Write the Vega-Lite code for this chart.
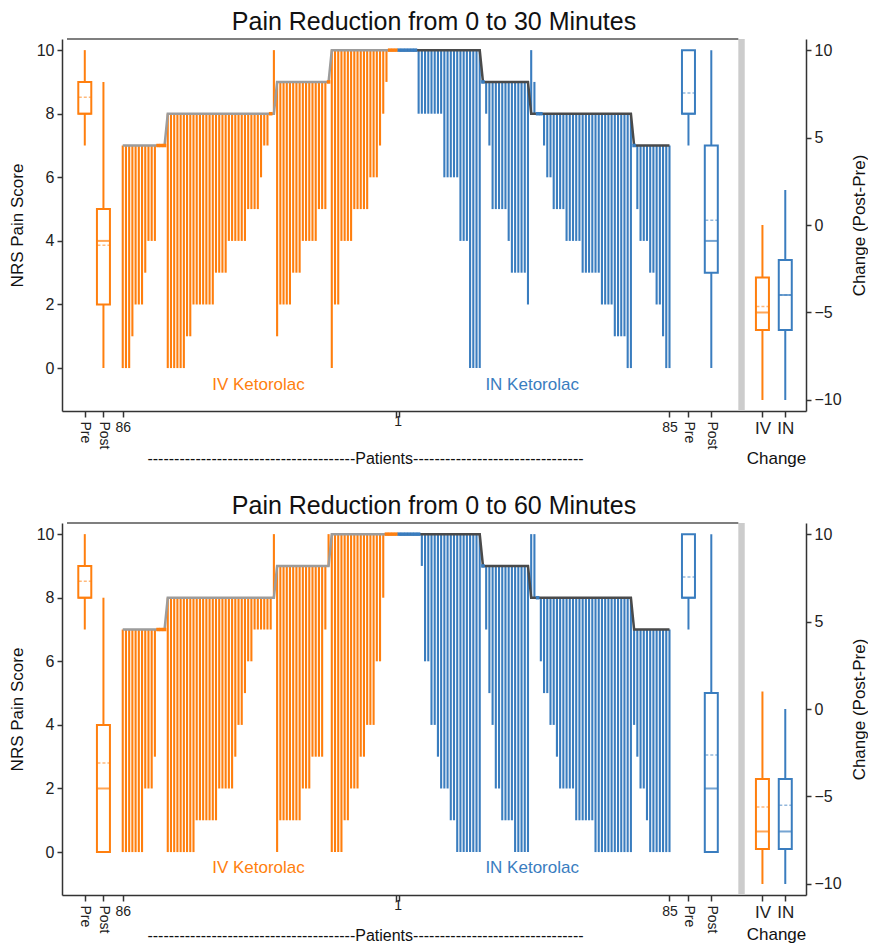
{
"$schema": "https://vega.github.io/schema/vega-lite/v6.json",
"background": "white",
"padding": {"left": 8, "top": 10, "right": 0, "bottom": 0},
"spacing": 28,
"datasets": {
"p30": [
{"arm":"IV","x":0,"pre":7,"post":0},{"arm":"IV","x":1,"pre":7,"post":0},{"arm":"IV","x":2,"pre":7,"post":0},{"arm":"IV","x":3,"pre":7,"post":1},{"arm":"IV","x":4,"pre":7,"post":2},{"arm":"IV","x":5,"pre":7,"post":2},{"arm":"IV","x":6,"pre":7,"post":2},{"arm":"IV","x":7,"pre":7,"post":3},{"arm":"IV","x":8,"pre":7,"post":4},{"arm":"IV","x":9,"pre":7,"post":4},{"arm":"IV","x":10,"pre":7,"post":4},{"arm":"IV","x":11,"pre":7,"post":7},{"arm":"IV","x":12,"pre":7,"post":7},{"arm":"IV","x":13,"pre":7,"post":7},
{"arm":"IV","x":14,"pre":8,"post":0},{"arm":"IV","x":15,"pre":8,"post":0},{"arm":"IV","x":16,"pre":8,"post":0},{"arm":"IV","x":17,"pre":8,"post":0},{"arm":"IV","x":18,"pre":8,"post":0},{"arm":"IV","x":19,"pre":8,"post":0},{"arm":"IV","x":20,"pre":8,"post":1},{"arm":"IV","x":21,"pre":8,"post":1},{"arm":"IV","x":22,"pre":8,"post":2},{"arm":"IV","x":23,"pre":8,"post":2},{"arm":"IV","x":24,"pre":8,"post":2},{"arm":"IV","x":25,"pre":8,"post":2},{"arm":"IV","x":26,"pre":8,"post":2},{"arm":"IV","x":27,"pre":8,"post":2},{"arm":"IV","x":28,"pre":8,"post":2},{"arm":"IV","x":29,"pre":8,"post":3},{"arm":"IV","x":30,"pre":8,"post":3},{"arm":"IV","x":31,"pre":8,"post":3},{"arm":"IV","x":32,"pre":8,"post":3},{"arm":"IV","x":33,"pre":8,"post":4},{"arm":"IV","x":34,"pre":8,"post":4},{"arm":"IV","x":35,"pre":8,"post":4},{"arm":"IV","x":36,"pre":8,"post":4},{"arm":"IV","x":37,"pre":8,"post":4},{"arm":"IV","x":38,"pre":8,"post":4},{"arm":"IV","x":39,"pre":8,"post":5},{"arm":"IV","x":40,"pre":8,"post":5},{"arm":"IV","x":41,"pre":8,"post":5},{"arm":"IV","x":42,"pre":8,"post":5},{"arm":"IV","x":43,"pre":8,"post":6},{"arm":"IV","x":44,"pre":8,"post":7},{"arm":"IV","x":45,"pre":8,"post":7},{"arm":"IV","x":46,"pre":8,"post":8},{"arm":"IV","x":47,"pre":8,"post":10},
{"arm":"IV","x":48,"pre":9,"post":1},{"arm":"IV","x":49,"pre":9,"post":2},{"arm":"IV","x":50,"pre":9,"post":2},{"arm":"IV","x":51,"pre":9,"post":2},{"arm":"IV","x":52,"pre":9,"post":2},{"arm":"IV","x":53,"pre":9,"post":3},{"arm":"IV","x":54,"pre":9,"post":3},{"arm":"IV","x":55,"pre":9,"post":3},{"arm":"IV","x":56,"pre":9,"post":4},{"arm":"IV","x":57,"pre":9,"post":4},{"arm":"IV","x":58,"pre":9,"post":4},{"arm":"IV","x":59,"pre":9,"post":4},{"arm":"IV","x":60,"pre":9,"post":4},{"arm":"IV","x":61,"pre":9,"post":5},{"arm":"IV","x":62,"pre":9,"post":5},{"arm":"IV","x":63,"pre":9,"post":5},{"arm":"IV","x":64,"pre":9,"post":9},
{"arm":"IV","x":65,"pre":10,"post":0},{"arm":"IV","x":66,"pre":10,"post":2},{"arm":"IV","x":67,"pre":10,"post":2},{"arm":"IV","x":68,"pre":10,"post":4},{"arm":"IV","x":69,"pre":10,"post":4},{"arm":"IV","x":70,"pre":10,"post":4},{"arm":"IV","x":71,"pre":10,"post":4},{"arm":"IV","x":72,"pre":10,"post":5},{"arm":"IV","x":73,"pre":10,"post":5},{"arm":"IV","x":74,"pre":10,"post":5},{"arm":"IV","x":75,"pre":10,"post":5},{"arm":"IV","x":76,"pre":10,"post":5},{"arm":"IV","x":77,"pre":10,"post":6},{"arm":"IV","x":78,"pre":10,"post":6},{"arm":"IV","x":79,"pre":10,"post":6},{"arm":"IV","x":80,"pre":10,"post":7},{"arm":"IV","x":81,"pre":10,"post":8},{"arm":"IV","x":82,"pre":10,"post":9},{"arm":"IV","x":83,"pre":10,"post":10},{"arm":"IV","x":84,"pre":10,"post":10},{"arm":"IV","x":85,"pre":10,"post":10},
{"arm":"IN","x":86,"pre":10,"post":10},{"arm":"IN","x":87,"pre":10,"post":10},{"arm":"IN","x":88,"pre":10,"post":10},{"arm":"IN","x":89,"pre":10,"post":10},{"arm":"IN","x":90,"pre":10,"post":10},{"arm":"IN","x":91,"pre":10,"post":10},{"arm":"IN","x":92,"pre":10,"post":8},{"arm":"IN","x":93,"pre":10,"post":8},{"arm":"IN","x":94,"pre":10,"post":8},{"arm":"IN","x":95,"pre":10,"post":8},{"arm":"IN","x":96,"pre":10,"post":8},{"arm":"IN","x":97,"pre":10,"post":8},{"arm":"IN","x":98,"pre":10,"post":8},{"arm":"IN","x":99,"pre":10,"post":8},{"arm":"IN","x":100,"pre":10,"post":6},{"arm":"IN","x":101,"pre":10,"post":6},{"arm":"IN","x":102,"pre":10,"post":6},{"arm":"IN","x":103,"pre":10,"post":6},{"arm":"IN","x":104,"pre":10,"post":6},{"arm":"IN","x":105,"pre":10,"post":4},{"arm":"IN","x":106,"pre":10,"post":4},{"arm":"IN","x":107,"pre":10,"post":4},{"arm":"IN","x":108,"pre":10,"post":0},{"arm":"IN","x":109,"pre":10,"post":0},{"arm":"IN","x":110,"pre":10,"post":0},{"arm":"IN","x":111,"pre":10,"post":0},
{"arm":"IN","x":112,"pre":9,"post":9},{"arm":"IN","x":113,"pre":9,"post":8},{"arm":"IN","x":114,"pre":9,"post":7},{"arm":"IN","x":115,"pre":9,"post":5},{"arm":"IN","x":116,"pre":9,"post":5},{"arm":"IN","x":117,"pre":9,"post":5},{"arm":"IN","x":118,"pre":9,"post":5},{"arm":"IN","x":119,"pre":9,"post":5},{"arm":"IN","x":120,"pre":9,"post":4},{"arm":"IN","x":121,"pre":9,"post":3},{"arm":"IN","x":122,"pre":9,"post":3},{"arm":"IN","x":123,"pre":9,"post":3},{"arm":"IN","x":124,"pre":9,"post":3},{"arm":"IN","x":125,"pre":9,"post":3},{"arm":"IN","x":126,"pre":9,"post":2},
{"arm":"IN","x":127,"pre":8,"post":10},{"arm":"IN","x":128,"pre":8,"post":9},{"arm":"IN","x":129,"pre":8,"post":8},{"arm":"IN","x":130,"pre":8,"post":8},{"arm":"IN","x":131,"pre":8,"post":7},{"arm":"IN","x":132,"pre":8,"post":6},{"arm":"IN","x":133,"pre":8,"post":6},{"arm":"IN","x":134,"pre":8,"post":5},{"arm":"IN","x":135,"pre":8,"post":5},{"arm":"IN","x":136,"pre":8,"post":5},{"arm":"IN","x":137,"pre":8,"post":5},{"arm":"IN","x":138,"pre":8,"post":4},{"arm":"IN","x":139,"pre":8,"post":4},{"arm":"IN","x":140,"pre":8,"post":4},{"arm":"IN","x":141,"pre":8,"post":4},{"arm":"IN","x":142,"pre":8,"post":4},{"arm":"IN","x":143,"pre":8,"post":3},{"arm":"IN","x":144,"pre":8,"post":3},{"arm":"IN","x":145,"pre":8,"post":3},{"arm":"IN","x":146,"pre":8,"post":3},{"arm":"IN","x":147,"pre":8,"post":3},{"arm":"IN","x":148,"pre":8,"post":3},{"arm":"IN","x":149,"pre":8,"post":2},{"arm":"IN","x":150,"pre":8,"post":2},{"arm":"IN","x":151,"pre":8,"post":2},{"arm":"IN","x":152,"pre":8,"post":2},{"arm":"IN","x":153,"pre":8,"post":1},{"arm":"IN","x":154,"pre":8,"post":1},{"arm":"IN","x":155,"pre":8,"post":1},{"arm":"IN","x":156,"pre":8,"post":1},{"arm":"IN","x":157,"pre":8,"post":0},{"arm":"IN","x":158,"pre":8,"post":0},
{"arm":"IN","x":159,"pre":7,"post":7},{"arm":"IN","x":160,"pre":7,"post":5},{"arm":"IN","x":161,"pre":7,"post":4},{"arm":"IN","x":162,"pre":7,"post":4},{"arm":"IN","x":163,"pre":7,"post":4},{"arm":"IN","x":164,"pre":7,"post":3},{"arm":"IN","x":165,"pre":7,"post":3},{"arm":"IN","x":166,"pre":7,"post":2},{"arm":"IN","x":167,"pre":7,"post":2},{"arm":"IN","x":168,"pre":7,"post":1},{"arm":"IN","x":169,"pre":7,"post":0},{"arm":"IN","x":170,"pre":7,"post":0}
],
"p60": [
{"arm":"IV","x":0,"pre":7,"post":0},{"arm":"IV","x":1,"pre":7,"post":0},{"arm":"IV","x":2,"pre":7,"post":0},{"arm":"IV","x":3,"pre":7,"post":0},{"arm":"IV","x":4,"pre":7,"post":0},{"arm":"IV","x":5,"pre":7,"post":0},{"arm":"IV","x":6,"pre":7,"post":0},{"arm":"IV","x":7,"pre":7,"post":2},{"arm":"IV","x":8,"pre":7,"post":2},{"arm":"IV","x":9,"pre":7,"post":2},{"arm":"IV","x":10,"pre":7,"post":3},{"arm":"IV","x":11,"pre":7,"post":7},{"arm":"IV","x":12,"pre":7,"post":7},{"arm":"IV","x":13,"pre":7,"post":7},
{"arm":"IV","x":14,"pre":8,"post":0},{"arm":"IV","x":15,"pre":8,"post":0},{"arm":"IV","x":16,"pre":8,"post":0},{"arm":"IV","x":17,"pre":8,"post":0},{"arm":"IV","x":18,"pre":8,"post":0},{"arm":"IV","x":19,"pre":8,"post":0},{"arm":"IV","x":20,"pre":8,"post":0},{"arm":"IV","x":21,"pre":8,"post":0},{"arm":"IV","x":22,"pre":8,"post":0},{"arm":"IV","x":23,"pre":8,"post":1},{"arm":"IV","x":24,"pre":8,"post":1},{"arm":"IV","x":25,"pre":8,"post":1},{"arm":"IV","x":26,"pre":8,"post":1},{"arm":"IV","x":27,"pre":8,"post":1},{"arm":"IV","x":28,"pre":8,"post":1},{"arm":"IV","x":29,"pre":8,"post":1},{"arm":"IV","x":30,"pre":8,"post":2},{"arm":"IV","x":31,"pre":8,"post":2},{"arm":"IV","x":32,"pre":8,"post":2},{"arm":"IV","x":33,"pre":8,"post":2},{"arm":"IV","x":34,"pre":8,"post":2},{"arm":"IV","x":35,"pre":8,"post":3},{"arm":"IV","x":36,"pre":8,"post":4},{"arm":"IV","x":37,"pre":8,"post":4},{"arm":"IV","x":38,"pre":8,"post":5},{"arm":"IV","x":39,"pre":8,"post":6},{"arm":"IV","x":40,"pre":8,"post":6},{"arm":"IV","x":41,"pre":8,"post":7},{"arm":"IV","x":42,"pre":8,"post":7},{"arm":"IV","x":43,"pre":8,"post":7},{"arm":"IV","x":44,"pre":8,"post":7},{"arm":"IV","x":45,"pre":8,"post":7},{"arm":"IV","x":46,"pre":8,"post":7},{"arm":"IV","x":47,"pre":8,"post":10},
{"arm":"IV","x":48,"pre":9,"post":0},{"arm":"IV","x":49,"pre":9,"post":1},{"arm":"IV","x":50,"pre":9,"post":1},{"arm":"IV","x":51,"pre":9,"post":1},{"arm":"IV","x":52,"pre":9,"post":1},{"arm":"IV","x":53,"pre":9,"post":1},{"arm":"IV","x":54,"pre":9,"post":1},{"arm":"IV","x":55,"pre":9,"post":1},{"arm":"IV","x":56,"pre":9,"post":2},{"arm":"IV","x":57,"pre":9,"post":2},{"arm":"IV","x":58,"pre":9,"post":2},{"arm":"IV","x":59,"pre":9,"post":3},{"arm":"IV","x":60,"pre":9,"post":3},{"arm":"IV","x":61,"pre":9,"post":3},{"arm":"IV","x":62,"pre":9,"post":3},{"arm":"IV","x":63,"pre":9,"post":7},{"arm":"IV","x":64,"pre":9,"post":10},
{"arm":"IV","x":65,"pre":10,"post":0},{"arm":"IV","x":66,"pre":10,"post":0},{"arm":"IV","x":67,"pre":10,"post":0},{"arm":"IV","x":68,"pre":10,"post":0},{"arm":"IV","x":69,"pre":10,"post":1},{"arm":"IV","x":70,"pre":10,"post":1},{"arm":"IV","x":71,"pre":10,"post":2},{"arm":"IV","x":72,"pre":10,"post":2},{"arm":"IV","x":73,"pre":10,"post":2},{"arm":"IV","x":74,"pre":10,"post":3},{"arm":"IV","x":75,"pre":10,"post":3},{"arm":"IV","x":76,"pre":10,"post":4},{"arm":"IV","x":77,"pre":10,"post":4},{"arm":"IV","x":78,"pre":10,"post":4},{"arm":"IV","x":79,"pre":10,"post":6},{"arm":"IV","x":80,"pre":10,"post":6},{"arm":"IV","x":81,"pre":10,"post":8},{"arm":"IV","x":82,"pre":10,"post":10},{"arm":"IV","x":83,"pre":10,"post":10},{"arm":"IV","x":84,"pre":10,"post":10},{"arm":"IV","x":85,"pre":10,"post":10},
{"arm":"IN","x":86,"pre":10,"post":10},{"arm":"IN","x":87,"pre":10,"post":10},{"arm":"IN","x":88,"pre":10,"post":10},{"arm":"IN","x":89,"pre":10,"post":10},{"arm":"IN","x":90,"pre":10,"post":10},{"arm":"IN","x":91,"pre":10,"post":10},{"arm":"IN","x":92,"pre":10,"post":10},{"arm":"IN","x":93,"pre":10,"post":9},{"arm":"IN","x":94,"pre":10,"post":6},{"arm":"IN","x":95,"pre":10,"post":6},{"arm":"IN","x":96,"pre":10,"post":4},{"arm":"IN","x":97,"pre":10,"post":4},{"arm":"IN","x":98,"pre":10,"post":3},{"arm":"IN","x":99,"pre":10,"post":2},{"arm":"IN","x":100,"pre":10,"post":2},{"arm":"IN","x":101,"pre":10,"post":2},{"arm":"IN","x":102,"pre":10,"post":1},{"arm":"IN","x":103,"pre":10,"post":1},{"arm":"IN","x":104,"pre":10,"post":0},{"arm":"IN","x":105,"pre":10,"post":0},{"arm":"IN","x":106,"pre":10,"post":0},{"arm":"IN","x":107,"pre":10,"post":0},{"arm":"IN","x":108,"pre":10,"post":0},{"arm":"IN","x":109,"pre":10,"post":0},{"arm":"IN","x":110,"pre":10,"post":0},{"arm":"IN","x":111,"pre":10,"post":0},
{"arm":"IN","x":112,"pre":9,"post":9},{"arm":"IN","x":113,"pre":9,"post":7},{"arm":"IN","x":114,"pre":9,"post":5},{"arm":"IN","x":115,"pre":9,"post":4},{"arm":"IN","x":116,"pre":9,"post":2},{"arm":"IN","x":117,"pre":9,"post":2},{"arm":"IN","x":118,"pre":9,"post":1},{"arm":"IN","x":119,"pre":9,"post":1},{"arm":"IN","x":120,"pre":9,"post":1},{"arm":"IN","x":121,"pre":9,"post":1},{"arm":"IN","x":122,"pre":9,"post":0},{"arm":"IN","x":123,"pre":9,"post":0},{"arm":"IN","x":124,"pre":9,"post":0},{"arm":"IN","x":125,"pre":9,"post":0},{"arm":"IN","x":126,"pre":9,"post":0},
{"arm":"IN","x":127,"pre":8,"post":10},{"arm":"IN","x":128,"pre":8,"post":10},{"arm":"IN","x":129,"pre":8,"post":8},{"arm":"IN","x":130,"pre":8,"post":6},{"arm":"IN","x":131,"pre":8,"post":5},{"arm":"IN","x":132,"pre":8,"post":5},{"arm":"IN","x":133,"pre":8,"post":4},{"arm":"IN","x":134,"pre":8,"post":4},{"arm":"IN","x":135,"pre":8,"post":3},{"arm":"IN","x":136,"pre":8,"post":2},{"arm":"IN","x":137,"pre":8,"post":2},{"arm":"IN","x":138,"pre":8,"post":2},{"arm":"IN","x":139,"pre":8,"post":2},{"arm":"IN","x":140,"pre":8,"post":2},{"arm":"IN","x":141,"pre":8,"post":1},{"arm":"IN","x":142,"pre":8,"post":1},{"arm":"IN","x":143,"pre":8,"post":1},{"arm":"IN","x":144,"pre":8,"post":1},{"arm":"IN","x":145,"pre":8,"post":1},{"arm":"IN","x":146,"pre":8,"post":1},{"arm":"IN","x":147,"pre":8,"post":0},{"arm":"IN","x":148,"pre":8,"post":0},{"arm":"IN","x":149,"pre":8,"post":0},{"arm":"IN","x":150,"pre":8,"post":0},{"arm":"IN","x":151,"pre":8,"post":0},{"arm":"IN","x":152,"pre":8,"post":0},{"arm":"IN","x":153,"pre":8,"post":0},{"arm":"IN","x":154,"pre":8,"post":0},{"arm":"IN","x":155,"pre":8,"post":0},{"arm":"IN","x":156,"pre":8,"post":0},{"arm":"IN","x":157,"pre":8,"post":0},{"arm":"IN","x":158,"pre":8,"post":0},
{"arm":"IN","x":159,"pre":7,"post":4},{"arm":"IN","x":160,"pre":7,"post":3},{"arm":"IN","x":161,"pre":7,"post":2},{"arm":"IN","x":162,"pre":7,"post":2},{"arm":"IN","x":163,"pre":7,"post":1},{"arm":"IN","x":164,"pre":7,"post":0},{"arm":"IN","x":165,"pre":7,"post":0},{"arm":"IN","x":166,"pre":7,"post":0},{"arm":"IN","x":167,"pre":7,"post":0},{"arm":"IN","x":168,"pre":7,"post":0},{"arm":"IN","x":169,"pre":7,"post":0},{"arm":"IN","x":170,"pre":7,"post":0}
],
"box": [
{"panel":"30","scale":"nrs","arm":"IV","x":-11.8,"lo":7,"q1":8,"med":8,"q3":9,"hi":10,"mean":8.52},
{"panel":"30","scale":"nrs","arm":"IV","x":-6,"lo":0,"q1":2,"med":4,"q3":5,"hi":9,"mean":3.86},
{"panel":"30","scale":"nrs","arm":"IN","x":175.9,"lo":7,"q1":8,"med":8,"q3":10,"hi":10,"mean":8.65},
{"panel":"30","scale":"nrs","arm":"IN","x":183,"lo":0,"q1":3,"med":4,"q3":7,"hi":10,"mean":4.65},
{"panel":"30","scale":"chg","arm":"IV","x":198.9,"lo":-10,"q1":-6,"med":-5,"q3":-3,"hi":0,"mean":-4.66},
{"panel":"30","scale":"chg","arm":"IN","x":206,"lo":-10,"q1":-6,"med":-4,"q3":-2,"hi":2,"mean":-4.0},
{"panel":"60","scale":"nrs","arm":"IV","x":-11.8,"lo":7,"q1":8,"med":8,"q3":9,"hi":10,"mean":8.52},
{"panel":"60","scale":"nrs","arm":"IV","x":-6,"lo":0,"q1":0,"med":2,"q3":4,"hi":8,"mean":2.8},
{"panel":"60","scale":"nrs","arm":"IN","x":175.9,"lo":7,"q1":8,"med":8,"q3":10,"hi":10,"mean":8.65},
{"panel":"60","scale":"nrs","arm":"IN","x":183,"lo":0,"q1":0,"med":2,"q3":5,"hi":10,"mean":3.05},
{"panel":"60","scale":"chg","arm":"IV","x":198.9,"lo":-10,"q1":-8,"med":-7,"q3":-4,"hi":1,"mean":-5.6},
{"panel":"60","scale":"chg","arm":"IN","x":206,"lo":-10,"q1":-8,"med":-7,"q3":-4,"hi":0,"mean":-5.5}
]
},
"vconcat": [
{
"width": 744, "height": 372,
"title": {"text": "Pain Reduction from 0 to 30 Minutes", "offset": 3},
"layer": [
{"layer": [
{"data": {"values": [{}]}, "mark": {"type": "rect", "color": "#cccccc"},
 "encoding": {"x": {"datum": 191.4, "type": "quantitative", "scale": {"domain": [-17.33, 210.89], "nice": false, "zero": false}}, "x2": {"datum": 193.4},
  "y": {"datum": -1.35, "type": "quantitative", "scale": {"domain": [-1.35, 10.35], "nice": false, "zero": false}}, "y2": {"datum": 10.35}}},
{"data": {"values": [{}]}, "mark": {"type": "rule", "color": "#555555", "strokeWidth": 1.5},
 "encoding": {"x": {"datum": -17.33, "type": "quantitative", "scale": {"domain": [-17.33, 210.89], "nice": false, "zero": false}}, "x2": {"datum": 191.4},
  "y": {"datum": 10.35, "type": "quantitative", "scale": {"domain": [-1.35, 10.35], "nice": false, "zero": false}}}},
{"data": {"name": "p30"}, "transform": [{"filter": "datum.pre != datum.post"}], "mark": {"type": "rule", "strokeWidth": 2.1},
 "encoding": {
  "x": {"field": "x", "type": "quantitative", "scale": {"domain": [-17.33, 210.89], "nice": false, "zero": false},
   "axis": {"values": [-11.8, -6, 0, 85, 85.5, 86, 170, 175.9, 183, 198.9, 206],
    "labelExpr": "datum.value == 0 ? '86' : datum.value == 85.5 ? '1' : datum.value == 170 ? '85' : datum.value == 198.9 ? 'IV' : datum.value == 206 ? 'IN' : ''",
    "labelFontSize": {"condition": {"test": "datum.value > 190", "value": 17}, "value": 14},
    "tickSize": {"condition": {"test": "datum.value == 85.5", "value": 0}, "value": 6},
    "labelAngle": 0, "labelOverlap": false, "labelBound": false, "labelFlush": false, "labelPadding": 3,
    "title": "---------------------------------------Patients--------------------------------", "titleFontSize": 16, "titleX": 303, "titleY": 47, "titleBaseline": "middle", "titleAlign": "center"}},
  "y": {"field": "pre", "type": "quantitative", "scale": {"domain": [-1.35, 10.35], "nice": false, "zero": false},
   "axis": {"values": [0, 2, 4, 6, 8, 10], "title": "NRS Pain Score", "titleFontSize": 17, "labelFontSize": 16, "tickSize": 5, "labelPadding": 3, "titlePadding": 10}},
  "y2": {"field": "post"},
  "color": {"field": "arm", "type": "nominal", "scale": {"domain": ["IV", "IN"], "range": ["#ff7f0e", "#3a7dbf"]}, "legend": null}}},
{"data": {"name": "p30"}, "transform": [{"filter": "datum.arm == 'IV'"}], "mark": {"type": "line", "color": "#9c9c9c", "strokeWidth": 2.5},
 "encoding": {"x": {"field": "x", "type": "quantitative", "scale": {"domain": [-17.33, 210.89], "nice": false, "zero": false}},
  "y": {"field": "pre", "type": "quantitative", "scale": {"domain": [-1.35, 10.35], "nice": false, "zero": false}}}},
{"data": {"name": "p30"}, "transform": [{"filter": "datum.arm == 'IN'"}], "mark": {"type": "line", "color": "#4a4a4a", "strokeWidth": 2.5},
 "encoding": {"x": {"field": "x", "type": "quantitative", "scale": {"domain": [-17.33, 210.89], "nice": false, "zero": false}},
  "y": {"field": "pre", "type": "quantitative", "scale": {"domain": [-1.35, 10.35], "nice": false, "zero": false}}}},
{"data": {"name": "p30"}, "transform": [{"filter": "datum.pre == datum.post"}], "mark": {"type": "rule", "strokeWidth": 3.5, "xOffset": -1.8, "x2Offset": 1.8},
 "encoding": {"x": {"field": "x", "type": "quantitative", "scale": {"domain": [-17.33, 210.89], "nice": false, "zero": false}}, "x2": {"field": "x"},
  "y": {"field": "pre", "type": "quantitative", "scale": {"domain": [-1.35, 10.35], "nice": false, "zero": false}},
  "color": {"field": "arm", "type": "nominal", "scale": {"domain": ["IV", "IN"], "range": ["#ff7f0e", "#3a7dbf"]}, "legend": null}}},
{"data": {"name": "box"}, "transform": [{"filter": "datum.panel == '30' && datum.scale == 'nrs'"}], "mark": {"type": "rule", "strokeWidth": 2},
 "encoding": {"x": {"field": "x", "type": "quantitative", "scale": {"domain": [-17.33, 210.89], "nice": false, "zero": false}},
  "y": {"field": "lo", "type": "quantitative", "scale": {"domain": [-1.35, 10.35], "nice": false, "zero": false}}, "y2": {"field": "hi"},
  "color": {"field": "arm", "type": "nominal", "scale": {"domain": ["IV", "IN"], "range": ["#ff7f0e", "#3a7dbf"]}, "legend": null}}},
{"data": {"name": "box"}, "transform": [{"filter": "datum.panel == '30' && datum.scale == 'nrs'"}], "mark": {"type": "bar", "size": 13, "fill": "white", "strokeWidth": 2},
 "encoding": {"x": {"field": "x", "type": "quantitative", "scale": {"domain": [-17.33, 210.89], "nice": false, "zero": false}},
  "y": {"field": "q1", "type": "quantitative", "scale": {"domain": [-1.35, 10.35], "nice": false, "zero": false}}, "y2": {"field": "q3"},
  "stroke": {"field": "arm", "type": "nominal", "scale": {"domain": ["IV", "IN"], "range": ["#ff7f0e", "#3a7dbf"]}, "legend": null}}},
{"data": {"name": "box"}, "transform": [{"filter": "datum.panel == '30' && datum.scale == 'nrs'"}], "mark": {"type": "tick", "orient": "horizontal", "size": 13, "thickness": 2},
 "encoding": {"x": {"field": "x", "type": "quantitative", "scale": {"domain": [-17.33, 210.89], "nice": false, "zero": false}},
  "y": {"field": "med", "type": "quantitative", "scale": {"domain": [-1.35, 10.35], "nice": false, "zero": false}},
  "color": {"field": "arm", "type": "nominal", "scale": {"domain": ["IV", "IN"], "range": ["#ff7f0e", "#3a7dbf"]}, "legend": null}}},
{"data": {"name": "box"}, "transform": [{"filter": "datum.panel == '30' && datum.scale == 'nrs'"}], "mark": {"type": "rule", "strokeWidth": 1.5, "strokeDash": [3, 2], "opacity": 0.55, "xOffset": -6, "x2Offset": 6},
 "encoding": {"x": {"field": "x", "type": "quantitative", "scale": {"domain": [-17.33, 210.89], "nice": false, "zero": false}}, "x2": {"field": "x"},
  "y": {"field": "mean", "type": "quantitative", "scale": {"domain": [-1.35, 10.35], "nice": false, "zero": false}},
  "color": {"field": "arm", "type": "nominal", "scale": {"domain": ["IV", "IN"], "range": ["#ff7f0e", "#3a7dbf"]}, "legend": null}}},
{"data": {"values": [{}]}, "mark": {"type": "text", "fontSize": 17, "color": "#ff7f0e"},
 "encoding": {"x": {"datum": 42.2, "type": "quantitative", "scale": {"domain": [-17.33, 210.89], "nice": false, "zero": false}},
  "y": {"datum": -0.53, "type": "quantitative", "scale": {"domain": [-1.35, 10.35], "nice": false, "zero": false}}, "text": {"value": "IV Ketorolac"}}},
{"data": {"values": [{}]}, "mark": {"type": "text", "fontSize": 17, "color": "#3a7dbf"},
 "encoding": {"x": {"datum": 127.3, "type": "quantitative", "scale": {"domain": [-17.33, 210.89], "nice": false, "zero": false}},
  "y": {"datum": -0.53, "type": "quantitative", "scale": {"domain": [-1.35, 10.35], "nice": false, "zero": false}}, "text": {"value": "IN Ketorolac"}}}
]},
{"layer": [
{"data": {"name": "box"}, "transform": [{"filter": "datum.panel == '30' && datum.scale == 'chg'"}], "mark": {"type": "rule", "strokeWidth": 2},
 "encoding": {"x": {"field": "x", "type": "quantitative", "scale": {"domain": [-17.33, 210.89], "nice": false, "zero": false},
   "axis": {"orient": "bottom", "values": [-11.8, -6, 175.9, 183], "labelExpr": "(datum.value == -11.8 || datum.value == 175.9) ? 'Pre' : 'Post'", "labelAngle": 90, "labelAlign": "left", "labelBaseline": "middle", "ticks": false, "domain": false, "labelPadding": 10, "labelFontSize": 14, "labelOverlap": false, "labelBound": false, "labelFlush": false,
    "title": "Change", "titleFontSize": 17, "titleX": 714, "titleY": 47, "titleBaseline": "middle", "titleAlign": "center"}},
  "y": {"field": "lo", "type": "quantitative", "scale": {"domain": [-10.63, 10.63], "nice": false, "zero": false},
   "axis": {"orient": "right", "values": [-10, -5, 0, 5, 10], "title": "Change (Post-Pre)", "titleAngle": 270, "titleBaseline": "top", "titleFontSize": 17, "labelFontSize": 16, "tickSize": 5, "labelPadding": 3, "titlePadding": 10}},
  "y2": {"field": "hi"},
  "color": {"field": "arm", "type": "nominal", "scale": {"domain": ["IV", "IN"], "range": ["#ff7f0e", "#3a7dbf"]}, "legend": null}}},
{"data": {"name": "box"}, "transform": [{"filter": "datum.panel == '30' && datum.scale == 'chg'"}], "mark": {"type": "bar", "size": 13, "fill": "white", "strokeWidth": 2},
 "encoding": {"x": {"field": "x", "type": "quantitative", "scale": {"domain": [-17.33, 210.89], "nice": false, "zero": false}},
  "y": {"field": "q1", "type": "quantitative", "scale": {"domain": [-10.63, 10.63], "nice": false, "zero": false}}, "y2": {"field": "q3"},
  "stroke": {"field": "arm", "type": "nominal", "scale": {"domain": ["IV", "IN"], "range": ["#ff7f0e", "#3a7dbf"]}, "legend": null}}},
{"data": {"name": "box"}, "transform": [{"filter": "datum.panel == '30' && datum.scale == 'chg'"}], "mark": {"type": "tick", "orient": "horizontal", "size": 13, "thickness": 2},
 "encoding": {"x": {"field": "x", "type": "quantitative", "scale": {"domain": [-17.33, 210.89], "nice": false, "zero": false}},
  "y": {"field": "med", "type": "quantitative", "scale": {"domain": [-10.63, 10.63], "nice": false, "zero": false}},
  "color": {"field": "arm", "type": "nominal", "scale": {"domain": ["IV", "IN"], "range": ["#ff7f0e", "#3a7dbf"]}, "legend": null}}},
{"data": {"name": "box"}, "transform": [{"filter": "datum.panel == '30' && datum.scale == 'chg'"}], "mark": {"type": "rule", "strokeWidth": 1.5, "strokeDash": [3, 2], "opacity": 0.55, "xOffset": -6, "x2Offset": 6},
 "encoding": {"x": {"field": "x", "type": "quantitative", "scale": {"domain": [-17.33, 210.89], "nice": false, "zero": false}}, "x2": {"field": "x"},
  "y": {"field": "mean", "type": "quantitative", "scale": {"domain": [-10.63, 10.63], "nice": false, "zero": false}},
  "color": {"field": "arm", "type": "nominal", "scale": {"domain": ["IV", "IN"], "range": ["#ff7f0e", "#3a7dbf"]}, "legend": null}}}
]}
],
"resolve": {"scale": {"x": "independent", "y": "independent"}}
},
{
"width": 744, "height": 372,
"title": {"text": "Pain Reduction from 0 to 60 Minutes", "offset": 3},
"layer": [
{"layer": [
{"data": {"values": [{}]}, "mark": {"type": "rect", "color": "#cccccc"},
 "encoding": {"x": {"datum": 191.4, "type": "quantitative", "scale": {"domain": [-17.33, 210.89], "nice": false, "zero": false}}, "x2": {"datum": 193.4},
  "y": {"datum": -1.35, "type": "quantitative", "scale": {"domain": [-1.35, 10.35], "nice": false, "zero": false}}, "y2": {"datum": 10.35}}},
{"data": {"values": [{}]}, "mark": {"type": "rule", "color": "#555555", "strokeWidth": 1.5},
 "encoding": {"x": {"datum": -17.33, "type": "quantitative", "scale": {"domain": [-17.33, 210.89], "nice": false, "zero": false}}, "x2": {"datum": 191.4},
  "y": {"datum": 10.35, "type": "quantitative", "scale": {"domain": [-1.35, 10.35], "nice": false, "zero": false}}}},
{"data": {"name": "p60"}, "transform": [{"filter": "datum.pre != datum.post"}], "mark": {"type": "rule", "strokeWidth": 2.1},
 "encoding": {
  "x": {"field": "x", "type": "quantitative", "scale": {"domain": [-17.33, 210.89], "nice": false, "zero": false},
   "axis": {"values": [-11.8, -6, 0, 85, 85.5, 86, 170, 175.9, 183, 198.9, 206],
    "labelExpr": "datum.value == 0 ? '86' : datum.value == 85.5 ? '1' : datum.value == 170 ? '85' : datum.value == 198.9 ? 'IV' : datum.value == 206 ? 'IN' : ''",
    "labelFontSize": {"condition": {"test": "datum.value > 190", "value": 17}, "value": 14},
    "tickSize": {"condition": {"test": "datum.value == 85.5", "value": 0}, "value": 6},
    "labelAngle": 0, "labelOverlap": false, "labelBound": false, "labelFlush": false, "labelPadding": 3,
    "title": "---------------------------------------Patients--------------------------------", "titleFontSize": 16, "titleX": 303, "titleY": 40, "titleBaseline": "middle", "titleAlign": "center"}},
  "y": {"field": "pre", "type": "quantitative", "scale": {"domain": [-1.35, 10.35], "nice": false, "zero": false},
   "axis": {"values": [0, 2, 4, 6, 8, 10], "title": "NRS Pain Score", "titleFontSize": 17, "labelFontSize": 16, "tickSize": 5, "labelPadding": 3, "titlePadding": 10}},
  "y2": {"field": "post"},
  "color": {"field": "arm", "type": "nominal", "scale": {"domain": ["IV", "IN"], "range": ["#ff7f0e", "#3a7dbf"]}, "legend": null}}},
{"data": {"name": "p60"}, "transform": [{"filter": "datum.arm == 'IV'"}], "mark": {"type": "line", "color": "#9c9c9c", "strokeWidth": 2.5},
 "encoding": {"x": {"field": "x", "type": "quantitative", "scale": {"domain": [-17.33, 210.89], "nice": false, "zero": false}},
  "y": {"field": "pre", "type": "quantitative", "scale": {"domain": [-1.35, 10.35], "nice": false, "zero": false}}}},
{"data": {"name": "p60"}, "transform": [{"filter": "datum.arm == 'IN'"}], "mark": {"type": "line", "color": "#4a4a4a", "strokeWidth": 2.5},
 "encoding": {"x": {"field": "x", "type": "quantitative", "scale": {"domain": [-17.33, 210.89], "nice": false, "zero": false}},
  "y": {"field": "pre", "type": "quantitative", "scale": {"domain": [-1.35, 10.35], "nice": false, "zero": false}}}},
{"data": {"name": "p60"}, "transform": [{"filter": "datum.pre == datum.post"}], "mark": {"type": "rule", "strokeWidth": 3.5, "xOffset": -1.8, "x2Offset": 1.8},
 "encoding": {"x": {"field": "x", "type": "quantitative", "scale": {"domain": [-17.33, 210.89], "nice": false, "zero": false}}, "x2": {"field": "x"},
  "y": {"field": "pre", "type": "quantitative", "scale": {"domain": [-1.35, 10.35], "nice": false, "zero": false}},
  "color": {"field": "arm", "type": "nominal", "scale": {"domain": ["IV", "IN"], "range": ["#ff7f0e", "#3a7dbf"]}, "legend": null}}},
{"data": {"name": "box"}, "transform": [{"filter": "datum.panel == '60' && datum.scale == 'nrs'"}], "mark": {"type": "rule", "strokeWidth": 2},
 "encoding": {"x": {"field": "x", "type": "quantitative", "scale": {"domain": [-17.33, 210.89], "nice": false, "zero": false}},
  "y": {"field": "lo", "type": "quantitative", "scale": {"domain": [-1.35, 10.35], "nice": false, "zero": false}}, "y2": {"field": "hi"},
  "color": {"field": "arm", "type": "nominal", "scale": {"domain": ["IV", "IN"], "range": ["#ff7f0e", "#3a7dbf"]}, "legend": null}}},
{"data": {"name": "box"}, "transform": [{"filter": "datum.panel == '60' && datum.scale == 'nrs'"}], "mark": {"type": "bar", "size": 13, "fill": "white", "strokeWidth": 2},
 "encoding": {"x": {"field": "x", "type": "quantitative", "scale": {"domain": [-17.33, 210.89], "nice": false, "zero": false}},
  "y": {"field": "q1", "type": "quantitative", "scale": {"domain": [-1.35, 10.35], "nice": false, "zero": false}}, "y2": {"field": "q3"},
  "stroke": {"field": "arm", "type": "nominal", "scale": {"domain": ["IV", "IN"], "range": ["#ff7f0e", "#3a7dbf"]}, "legend": null}}},
{"data": {"name": "box"}, "transform": [{"filter": "datum.panel == '60' && datum.scale == 'nrs'"}], "mark": {"type": "tick", "orient": "horizontal", "size": 13, "thickness": 2},
 "encoding": {"x": {"field": "x", "type": "quantitative", "scale": {"domain": [-17.33, 210.89], "nice": false, "zero": false}},
  "y": {"field": "med", "type": "quantitative", "scale": {"domain": [-1.35, 10.35], "nice": false, "zero": false}},
  "color": {"field": "arm", "type": "nominal", "scale": {"domain": ["IV", "IN"], "range": ["#ff7f0e", "#3a7dbf"]}, "legend": null}}},
{"data": {"name": "box"}, "transform": [{"filter": "datum.panel == '60' && datum.scale == 'nrs'"}], "mark": {"type": "rule", "strokeWidth": 1.5, "strokeDash": [3, 2], "opacity": 0.55, "xOffset": -6, "x2Offset": 6},
 "encoding": {"x": {"field": "x", "type": "quantitative", "scale": {"domain": [-17.33, 210.89], "nice": false, "zero": false}}, "x2": {"field": "x"},
  "y": {"field": "mean", "type": "quantitative", "scale": {"domain": [-1.35, 10.35], "nice": false, "zero": false}},
  "color": {"field": "arm", "type": "nominal", "scale": {"domain": ["IV", "IN"], "range": ["#ff7f0e", "#3a7dbf"]}, "legend": null}}},
{"data": {"values": [{}]}, "mark": {"type": "text", "fontSize": 17, "color": "#ff7f0e"},
 "encoding": {"x": {"datum": 42.2, "type": "quantitative", "scale": {"domain": [-17.33, 210.89], "nice": false, "zero": false}},
  "y": {"datum": -0.5, "type": "quantitative", "scale": {"domain": [-1.35, 10.35], "nice": false, "zero": false}}, "text": {"value": "IV Ketorolac"}}},
{"data": {"values": [{}]}, "mark": {"type": "text", "fontSize": 17, "color": "#3a7dbf"},
 "encoding": {"x": {"datum": 127.3, "type": "quantitative", "scale": {"domain": [-17.33, 210.89], "nice": false, "zero": false}},
  "y": {"datum": -0.5, "type": "quantitative", "scale": {"domain": [-1.35, 10.35], "nice": false, "zero": false}}, "text": {"value": "IN Ketorolac"}}}
]},
{"layer": [
{"data": {"name": "box"}, "transform": [{"filter": "datum.panel == '60' && datum.scale == 'chg'"}], "mark": {"type": "rule", "strokeWidth": 2},
 "encoding": {"x": {"field": "x", "type": "quantitative", "scale": {"domain": [-17.33, 210.89], "nice": false, "zero": false},
   "axis": {"orient": "bottom", "values": [-11.8, -6, 175.9, 183], "labelExpr": "(datum.value == -11.8 || datum.value == 175.9) ? 'Pre' : 'Post'", "labelAngle": 90, "labelAlign": "left", "labelBaseline": "middle", "ticks": false, "domain": false, "labelPadding": 10, "labelFontSize": 14, "labelOverlap": false, "labelBound": false, "labelFlush": false,
    "title": "Change", "titleFontSize": 17, "titleX": 714, "titleY": 39, "titleBaseline": "middle", "titleAlign": "center"}},
  "y": {"field": "lo", "type": "quantitative", "scale": {"domain": [-10.63, 10.63], "nice": false, "zero": false},
   "axis": {"orient": "right", "values": [-10, -5, 0, 5, 10], "title": "Change (Post-Pre)", "titleAngle": 270, "titleBaseline": "top", "titleFontSize": 17, "labelFontSize": 16, "tickSize": 5, "labelPadding": 3, "titlePadding": 10}},
  "y2": {"field": "hi"},
  "color": {"field": "arm", "type": "nominal", "scale": {"domain": ["IV", "IN"], "range": ["#ff7f0e", "#3a7dbf"]}, "legend": null}}},
{"data": {"name": "box"}, "transform": [{"filter": "datum.panel == '60' && datum.scale == 'chg'"}], "mark": {"type": "bar", "size": 13, "fill": "white", "strokeWidth": 2},
 "encoding": {"x": {"field": "x", "type": "quantitative", "scale": {"domain": [-17.33, 210.89], "nice": false, "zero": false}},
  "y": {"field": "q1", "type": "quantitative", "scale": {"domain": [-10.63, 10.63], "nice": false, "zero": false}}, "y2": {"field": "q3"},
  "stroke": {"field": "arm", "type": "nominal", "scale": {"domain": ["IV", "IN"], "range": ["#ff7f0e", "#3a7dbf"]}, "legend": null}}},
{"data": {"name": "box"}, "transform": [{"filter": "datum.panel == '60' && datum.scale == 'chg'"}], "mark": {"type": "tick", "orient": "horizontal", "size": 13, "thickness": 2},
 "encoding": {"x": {"field": "x", "type": "quantitative", "scale": {"domain": [-17.33, 210.89], "nice": false, "zero": false}},
  "y": {"field": "med", "type": "quantitative", "scale": {"domain": [-10.63, 10.63], "nice": false, "zero": false}},
  "color": {"field": "arm", "type": "nominal", "scale": {"domain": ["IV", "IN"], "range": ["#ff7f0e", "#3a7dbf"]}, "legend": null}}},
{"data": {"name": "box"}, "transform": [{"filter": "datum.panel == '60' && datum.scale == 'chg'"}], "mark": {"type": "rule", "strokeWidth": 1.5, "strokeDash": [3, 2], "opacity": 0.55, "xOffset": -6, "x2Offset": 6},
 "encoding": {"x": {"field": "x", "type": "quantitative", "scale": {"domain": [-17.33, 210.89], "nice": false, "zero": false}}, "x2": {"field": "x"},
  "y": {"field": "mean", "type": "quantitative", "scale": {"domain": [-10.63, 10.63], "nice": false, "zero": false}},
  "color": {"field": "arm", "type": "nominal", "scale": {"domain": ["IV", "IN"], "range": ["#ff7f0e", "#3a7dbf"]}, "legend": null}}}
]}
],
"resolve": {"scale": {"x": "independent", "y": "independent"}}
}
],
"config": {
"view": {"stroke": null},
"font": "Liberation Sans",
"title": {"font": "Liberation Sans", "fontSize": 25, "fontWeight": "normal", "color": "#111111"},
"axis": {"labelFont": "Liberation Sans", "titleFont": "Liberation Sans", "labelColor": "#222222", "titleColor": "#111111", "titleFontWeight": "normal", "grid": false, "domainColor": "#333333", "tickColor": "#333333", "domainWidth": 1.5, "tickWidth": 1.5},
"text": {"font": "Liberation Sans"}
}
}
